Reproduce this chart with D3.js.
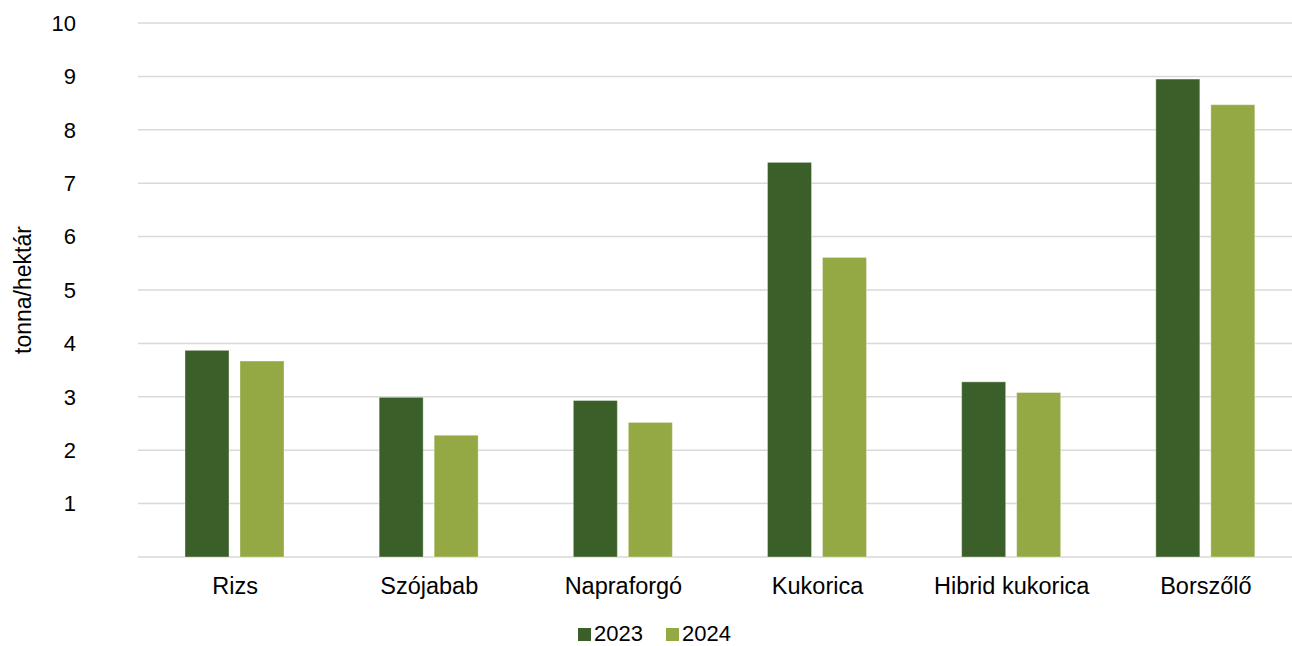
<!DOCTYPE html>
<html>
<head>
<meta charset="utf-8">
<script src="https://cdn.jsdelivr.net/npm/d3@7"></script>
<style>
  body { margin: 0; background: #fff; overflow: hidden; }
  text { font-family: "Liberation Sans", Arial, sans-serif; fill: #000; }
</style>
</head>
<body>
<div id="vis"></div>
<script>
var categories = ['Rizs', 'Szójabab', 'Napraforgó', 'Kukorica', 'Hibrid kukorica', 'Borszőlő'];
var seriesNames = ['2023', '2024'];
var values2023 = [3.87, 2.99, 2.93, 7.39, 3.28, 8.95];
var values2024 = [3.67, 2.28, 2.52, 5.61, 3.08, 8.47];
var yTicks = [1, 2, 3, 4, 5, 6, 7, 8, 9, 10];
var colors = ['#3a5f28', '#94a944'];

var width = 1292,
	height = 646;

var margin = { left: 138, top: 23, bottom: 89 };
var drawWidth = 1165,
	drawHeight = height - margin.top - margin.bottom;

var svg = d3.select('#vis').append('svg')
	.attr('width', width)
	.attr('height', height);

var g = svg.append('g')
	.attr('transform', 'translate(' + margin.left + ',' + margin.top + ')');

var xScale = d3.scaleBand()
	.domain(categories)
	.range([0, drawWidth]);

var xInner = d3.scaleBand()
	.domain(seriesNames)
	.range([47, 146])
	.paddingInner(0.2);

var yScale = d3.scaleLinear()
	.domain([0, 10])
	.range([drawHeight, 0]);

// gridlines
g.selectAll('.grid')
	.data([0].concat(yTicks))
	.enter().append('line')
	.attr('x1', 0)
	.attr('x2', drawWidth)
	.attr('y1', function(d) { return yScale(d); })
	.attr('y2', function(d) { return yScale(d); })
	.attr('stroke', '#d9d9d9')
	.attr('stroke-width', 1.5);

// y tick labels
g.selectAll('.ytick')
	.data(yTicks)
	.enter().append('text')
	.attr('x', -62)
	.attr('y', function(d) { return yScale(d); })
	.attr('dy', '0.35em')
	.attr('text-anchor', 'end')
	.attr('font-size', 22)
	.text(function(d) { return d; });

// bars
var data = categories.map(function(c, i) {
	return { cat: c, vals: [values2023[i], values2024[i]] };
});

var groups = g.selectAll('.cat')
	.data(data)
	.enter().append('g')
	.attr('transform', function(d) { return 'translate(' + xScale(d.cat) + ',0)'; });

groups.selectAll('rect')
	.data(function(d) { return d.vals.map(function(v, i) { return { key: seriesNames[i], v: v, i: i }; }); })
	.enter().append('rect')
	.attr('x', function(d) { return xInner(d.key); })
	.attr('width', xInner.bandwidth())
	.attr('y', function(d) { return yScale(d.v); })
	.attr('height', function(d) { return yScale(0) - yScale(d.v); })
	.attr('fill', function(d) { return colors[d.i]; })
	.attr('stroke', '#ffffff')
	.attr('stroke-opacity', 0.35)
	.attr('stroke-width', 1);

// category labels
g.selectAll('.xlabel')
	.data(categories)
	.enter().append('text')
	.attr('x', function(d) { return xScale(d) + xScale.bandwidth() / 2; })
	.attr('y', drawHeight + 37)
	.attr('text-anchor', 'middle')
	.attr('font-size', 23.5)
	.text(function(d) { return d; });

// y axis title
svg.append('text')
	.attr('transform', 'translate(31,' + (margin.top + drawHeight / 2) + ') rotate(-90)')
	.attr('text-anchor', 'middle')
	.attr('font-size', 23)
	.text('tonna/hektár');

// legend
var legend = svg.append('g')
	.attr('transform', 'translate(578,633)');

var legendItems = legend.selectAll('g')
	.data(seriesNames)
	.enter().append('g')
	.attr('transform', function(d, i) { return 'translate(' + (i * 88) + ',0)'; });

legendItems.append('rect')
	.attr('x', 0)
	.attr('y', -5)
	.attr('width', 13)
	.attr('height', 13)
	.attr('fill', function(d, i) { return colors[i]; });

legendItems.append('text')
	.attr('x', 16)
	.attr('y', 0)
	.attr('dy', '0.35em')
	.attr('font-size', 22)
	.text(function(d) { return d; });
</script>
</body>
</html>
